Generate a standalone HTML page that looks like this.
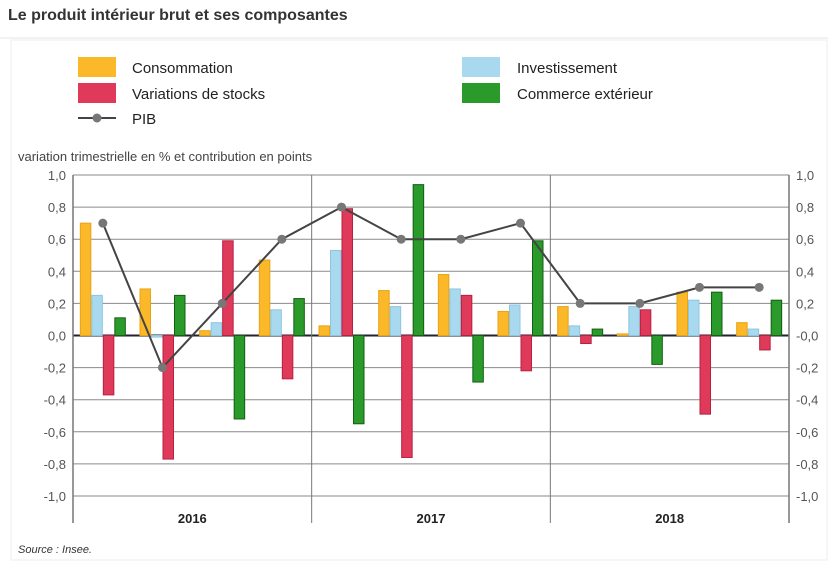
<!DOCTYPE html>
<html><head><meta charset="utf-8"><style>
body{margin:0;background:#fff;width:828px;height:561px;overflow:hidden;font-family:"Liberation Sans",sans-serif}
</style></head><body>
<svg width="828" height="561" xmlns="http://www.w3.org/2000/svg">
<text x="8" y="20" font-size="16" font-weight="bold" fill="#333">Le produit intérieur brut et ses composantes</text>
<line x1="0" y1="38" x2="828" y2="38" stroke="#e6e6e6"/>
<rect x="11" y="40" width="816" height="520" fill="none" stroke="#eee"/>
<g id="legend" font-size="15" fill="#222">
<rect x="78" y="57" width="38" height="20" fill="#fbb829"/>
<text x="132" y="73">Consommation</text>
<rect x="462" y="57" width="38" height="20" fill="#a8d9ef"/>
<text x="517" y="73">Investissement</text>
<rect x="78" y="83" width="38" height="20" fill="#e03a5a"/>
<text x="132" y="99">Variations de stocks</text>
<rect x="462" y="83" width="38" height="20" fill="#2a9a2a"/>
<text x="517" y="99">Commerce extérieur</text>
<line x1="78" y1="118" x2="116" y2="118" stroke="#444" stroke-width="2"/>
<circle cx="97" cy="118" r="4.5" fill="#777"/>
<text x="132" y="124">PIB</text>
</g>
<text x="18" y="161" font-size="13" fill="#444">variation trimestrielle en % et contribution en points</text>
<g id="grid"></g><g id="bars"></g><g id="line"></g>
<text x="18" y="553" font-size="11" font-style="italic" fill="#333">Source : Insee.</text>
</svg>
<script>
const years = ["2016","2017","2018"];
const ticks = [1.0,0.8,0.6,0.4,0.2,0,-0.2,-0.4,-0.6,-0.8,-1.0];
const consommation = [0.70,0.29,0.03,0.47,0.06,0.28,0.38,0.15,0.18,0.01,0.27,0.08];
const investissement = [0.25,-0.01,0.08,0.16,0.53,0.18,0.29,0.19,0.06,0.18,0.22,0.04];
const stocks = [-0.37,-0.77,0.59,-0.27,0.79,-0.76,0.25,-0.22,-0.05,0.16,-0.49,-0.09];
const commerce = [0.11,0.25,-0.52,0.23,-0.55,0.94,-0.29,0.59,0.04,-0.18,0.27,0.22];
const pib = [0.7,-0.2,0.2,0.6,0.8,0.6,0.6,0.7,0.2,0.2,0.3,0.3];

const NS="http://www.w3.org/2000/svg";
const L=73,R=789,T=175,B=496;
const nQ=consommation.length, qw=(R-L)/nQ;
const y=v=>T+(1-v)/2*(B-T);
const xq=i=>L+qw*(i+0.5);
function mk(tag,attrs,parent,text){const e=document.createElementNS(NS,tag);for(const k in attrs)e.setAttribute(k,attrs[k]);if(text!==undefined)e.textContent=text;parent.appendChild(e);return e;}
const grid=document.getElementById('grid');
ticks.forEach(t=>{
  const l=mk('line',{x1:L,x2:R,y1:y(t),y2:y(t),stroke:t===0?'#223':'#8a8a8a','stroke-width':t===0?2:1},grid);
  
  
  const lab=t.toFixed(1).replace('.',',');
  const a=mk('text',{x:66,y:y(t)+5,'text-anchor':'end','font-size':13,fill:'#555'},grid,lab);
  
  
  const b=mk('text',{x:796,y:y(t)+5,'font-size':13,fill:'#555'},grid,t===0?'-0,0':lab);
  
  
});
const yw=(R-L)/years.length;
for(let k=0;k<=years.length;k++){
  const xx=L+k*yw;
  const l=mk('line',{x1:xx,x2:xx,y1:T,y2:523,stroke:'#777','stroke-width':k===0||k===years.length?1.5:1},grid);
  
  
}
years.forEach((yr,k)=>{
  const t=mk('text',{x:L+yw*(k+0.5),y:523,'text-anchor':'middle','font-size':13,'font-weight':'bold',fill:'#222'},grid,yr);
  
  
});
const series=[[consommation,'#fbb829','#e8a318','bar-consommation'],[investissement,'#a8d9ef','#8cc6e0','bar-investissement'],[stocks,'#e03a5a','#b82040','bar-stocks'],[commerce,'#2a9a2a','#135f13','bar-commerce']];
const bw=11.5,bars=document.getElementById('bars');
for(let i=0;i<nQ;i++){
  series.forEach((s,j)=>{
    const v=s[0][i],x0=xq(i)-2*bw+j*bw;
    const r=mk('rect',{x:x0+0.5,y:Math.min(y(v),y(0)),width:bw-1,height:Math.abs(y(v)-y(0)),fill:s[1],stroke:s[2],'stroke-width':1},bars);
    
    
  });
}
const lg=document.getElementById('line');
const p=mk('polyline',{points:pib.map((v,i)=>xq(i)+','+y(v)).join(' '),fill:'none',stroke:'#444','stroke-width':2},lg);


pib.forEach((v,i)=>{
  const c=mk('circle',{cx:xq(i),cy:y(v),r:4.5,fill:'#777'},lg);
  
  
});
</script>
</body></html>
